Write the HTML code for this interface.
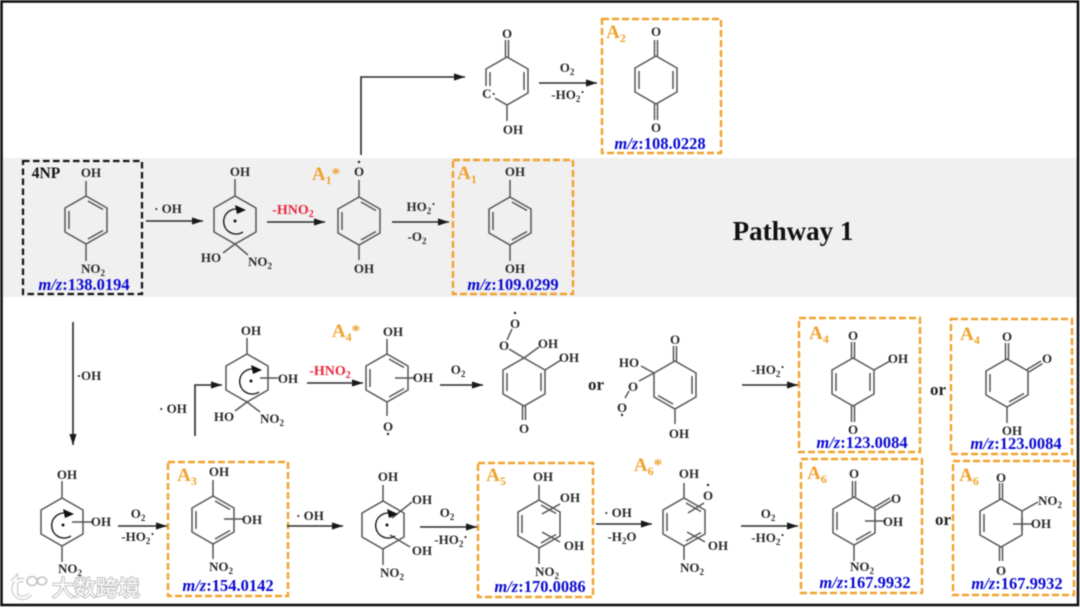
<!DOCTYPE html>
<html>
<head>
<meta charset="utf-8">
<style>
html,body{margin:0;padding:0;background:#fff;width:1080px;height:608px;overflow:hidden}
svg{display:block;filter:blur(0.45px)}
text{font-family:"Liberation Serif","Noto Serif CJK SC",serif;text-anchor:middle}
.t{font-size:13px;font-weight:bold;fill:#2a2a2a}
.r{font-size:14px;font-weight:bold;fill:#e8263c}
.m{font-size:16.5px;font-weight:bold;fill:#0a0ad2}
.m .i{font-style:italic}
.a{font-size:19px;font-weight:bold;fill:#f0a22e}
.b{fill:none;stroke:#f0a22e;stroke-width:2.4;stroke-dasharray:7 3}
.o{font-size:17px;font-weight:bold;fill:#222}
.ring{fill:none;stroke:#555;stroke-width:1.5}
.ar{stroke:#2a2a2a;stroke-width:1.6;fill:none;marker-end:url(#h)}
</style>
</head>
<body>
<svg width="1080" height="608" viewBox="0 0 1080 608" xmlns="http://www.w3.org/2000/svg">
<defs>
<marker id="h" markerUnits="userSpaceOnUse" markerWidth="12" markerHeight="8" refX="11" refY="4" orient="auto"><path d="M0,0.4L11,4L0,7.6z" fill="#1a1a1a"/></marker>
<polygon id="hex" points="0,-24 21,-12 21,12 0,24 -21,12 -21,-12"/>
<path id="L" d="M-17,-9V9"/>
<path id="R" d="M17,-9V9"/>
<path id="UR" d="M2,-19L17,-10.5"/>
<path id="LR" d="M2,19L17,10.5"/>
<path id="LL" d="M-2,19L-17,10.5"/>
<g id="rad">
<circle cx="0" cy="0" r="1.5" fill="#111"/>
<path d="M8,11A12.5,12.5 0 1 1 6,-11" fill="none" stroke="#222" stroke-width="1.5"/>
<path d="M0,-16L11,-11L2,-7z" fill="#111"/>
</g>
</defs>

<rect x="0" y="0" width="1080" height="608" fill="#fff"/>
<rect x="3" y="158" width="1074" height="139" fill="#f0f0f0"/>
<rect x="1.5" y="1.5" width="1076.5" height="603.5" fill="none" stroke="#111" stroke-width="2.6"/>

<!-- boxes -->
<rect x="23" y="161" width="119" height="133" fill="none" stroke="#111" stroke-width="2.2" stroke-dasharray="6.5 3.5"/>
<rect class="b" x="453" y="160" width="120" height="134"/>
<rect class="b" x="602" y="19" width="119" height="134"/>
<rect class="b" x="168" y="462" width="120" height="134"/>
<rect class="b" x="478" y="463" width="115" height="134"/>
<rect class="b" x="799" y="318" width="121" height="134"/>
<rect class="b" x="951" y="319" width="121" height="135"/>
<rect class="b" x="801" y="459" width="121" height="134"/>
<rect class="b" x="953" y="461" width="121" height="134"/>

<!-- rings and bonds -->
<g class="ring">
<!-- 4NP -->
<g transform="translate(86,220)"><use href="#hex"/><use href="#L"/><use href="#UR"/><use href="#LR"/><path d="M0,-24V-39M0,24V41"/></g>
<!-- OH adduct -->
<g transform="translate(235,220)"><use href="#hex"/><path d="M0,-24V-41M0,24L-12,33M0,24L13,35"/></g>
<!-- A1* -->
<g transform="translate(359,221)"><use href="#hex"/><use href="#L"/><use href="#UR"/><use href="#LR"/><path d="M0,-24V-41M0,24V39"/></g>
<!-- A1 -->
<g transform="translate(510,221)"><use href="#hex"/><use href="#L"/><use href="#UR"/><use href="#LR"/><path d="M0,-24V-41M0,24V40"/></g>
<!-- top intermediate -->
<g transform="translate(507,81)"><use href="#hex"/><use href="#L"/><use href="#R"/><path d="M-1.5,-24V-41M1.5,-24V-41M0,24V40"/></g>
<!-- A2 -->
<g transform="translate(656,80)"><use href="#hex"/><use href="#L"/><use href="#R"/><path d="M-1.5,-24V-40M1.5,-24V-40M-1.5,24V40M1.5,24V40"/></g>
<!-- bottom left -->
<g transform="translate(62,522)"><use href="#hex"/><path d="M0,-24V-41M0,24V40M10,0H30"/></g>
<!-- A3 -->
<g transform="translate(213,520)"><use href="#hex"/><use href="#L"/><use href="#UR"/><use href="#LR"/><path d="M0,-24V-40M0,24V39M11,-1H30"/></g>
<!-- mid upper -->
<g transform="translate(247,378)"><use href="#hex"/><path d="M0,-24V-40M0,24L-12,33M0,24L13,34M13,0H31"/></g>
<!-- A4* -->
<g transform="translate(387,378)"><use href="#hex"/><use href="#L"/><use href="#UR"/><use href="#LR"/><path d="M0,-24V-39M0,24V38M8,0H28"/></g>
<!-- peroxy 1 -->
<g transform="translate(524,382)"><use href="#hex"/><use href="#L"/><use href="#R"/><path d="M-1.5,24V38M1.5,24V38M0,-24L-15,-33M0,-24L15,-35M21,-12L37,-22M-17,-42L-12,-53"/></g>
<!-- peroxy 2 -->
<g transform="translate(675,385)"><use href="#hex"/><use href="#R"/><use href="#LL"/><path d="M-1.5,-24V-39M1.5,-24V-39M0,24V39M-21,-12L-34,-19M-21,-12L-36,-4M-46,6L-50,13"/></g>
<!-- A4 -->
<g transform="translate(853,382)"><use href="#hex"/><use href="#L"/><use href="#R"/><path d="M-1.5,-24V-40M1.5,-24V-40M-1.5,24V40M1.5,24V40M21,-12L37,-21"/></g>
<!-- A4b -->
<g transform="translate(1007,383)"><use href="#hex"/><use href="#L"/><use href="#LR"/><path d="M-1.5,-24V-40M1.5,-24V-40M0,24V40M20,-13.5L34,-22M22,-11L35.5,-19.5"/></g>
<!-- bis-OH radical -->
<g transform="translate(383,525)"><use href="#hex"/><path d="M0,-24V-40M0,24V40M9,-7L29,-23M7,10L27,22"/></g>
<!-- A5 -->
<g transform="translate(539,524)"><use href="#hex"/><use href="#L"/><use href="#UR"/><use href="#LR"/><path d="M0,-24V-39M0,24V40M3,-10L21,-20M3,8L21,18"/></g>
<!-- A6* -->
<g transform="translate(684,522)"><use href="#hex"/><use href="#L"/><use href="#UR"/><use href="#LR"/><path d="M0,-24V-39M0,24V38M4,-9L20,-19M3,10L21,20"/></g>
<!-- A6 -->
<g transform="translate(854,521)"><use href="#hex"/><use href="#L"/><use href="#LR"/><path d="M-1.5,-24V-40M1.5,-24V-40M0,24V40M20,-13.5L36,-23M22,-11L37.5,-20.5M11,0H30"/></g>
<!-- A6b -->
<g transform="translate(1001,523)"><use href="#hex"/><use href="#L"/><path d="M-1.5,-24V-40M1.5,-24V-40M-1.5,24V38M1.5,24V38M21,-12L37,-21M12,1H31M21,-6V8"/></g>
</g>
<rect x="480" y="86" width="15" height="14" fill="#fff"/>

<!-- radicals -->
<use href="#rad" x="235" y="221"/>
<use href="#rad" x="63" y="525"/>
<use href="#rad" x="251" y="381"/>
<use href="#rad" x="387" y="525"/>

<!-- arrows -->
<path class="ar" d="M146,221H203"/>
<path class="ar" d="M267,222H325"/>
<path class="ar" d="M392,222H449"/>
<path class="ar" d="M539,83H597"/>
<path class="ar" d="M361,155V77H465"/>
<path class="ar" d="M73,322V445"/>
<path class="ar" d="M195,436V385H222"/>
<path class="ar" d="M307,383H363"/>
<path class="ar" d="M440,385H483"/>
<path class="ar" d="M742,385H798"/>
<path class="ar" d="M118,526H167"/>
<path class="ar" d="M287,526H343"/>
<path class="ar" d="M420,527H477"/>
<path class="ar" d="M596,524H652"/>
<path class="ar" d="M741,526H798"/>

<!-- radical dots on oxygens -->
<g fill="#222">
<circle cx="359" cy="162" r="1.2"/>
<circle cx="388" cy="434" r="1.2"/>
<circle cx="515" cy="313" r="1.2"/>
<circle cx="622" cy="415" r="1.2"/>
<circle cx="708" cy="485" r="1.2"/>
</g>

<!-- structure labels -->
<g class="t">
<text x="91" y="177">OH</text><text x="93" y="273">NO<tspan dy="3" font-size="9">2</tspan></text>
<text x="240" y="176">OH</text><text x="211" y="262">HO</text><text x="260" y="266">NO<tspan dy="3" font-size="9">2</tspan></text>
<text x="359" y="176">O</text><text x="364" y="273">OH</text>
<text x="515" y="176">OH</text><text x="515" y="273">OH</text>
<text x="507" y="38">O</text><text x="513" y="134">OH</text><text x="489" y="98">C·</text>
<text x="656" y="36">O</text><text x="656" y="132">O</text>
<text x="67" y="479">OH</text><text x="101" y="526">OH</text><text x="70" y="573">NO<tspan dy="3" font-size="9">2</tspan></text>
<text x="219" y="476">OH</text><text x="252" y="524">OH</text><text x="221" y="571">NO<tspan dy="3" font-size="9">2</tspan></text>
<text x="251" y="335">OH</text><text x="288" y="383">OH</text><text x="224" y="421">HO</text><text x="272" y="423">NO<tspan dy="3" font-size="9">2</tspan></text>
<text x="393" y="336">OH</text><text x="423" y="382">OH</text><text x="388" y="431">O</text>
<text x="504" y="350">O</text><text x="515" y="328">O</text><text x="548" y="348">OH</text><text x="569" y="362">OH</text><text x="524" y="433">O</text>
<text x="675" y="344">O</text><text x="629" y="367">HO</text><text x="633" y="391">O</text><text x="622" y="412">O</text><text x="679" y="438">OH</text>
<text x="853" y="340">O</text><text x="898" y="363">OH</text><text x="853" y="434">O</text>
<text x="1007" y="341">O</text><text x="1047" y="363">O</text><text x="1012" y="435">OH</text>
<text x="388" y="481">OH</text><text x="422" y="504">OH</text><text x="422" y="555">OH</text><text x="392" y="577">NO<tspan dy="3" font-size="9">2</tspan></text>
<text x="543" y="481">OH</text><text x="570" y="502">OH</text><text x="574" y="550">OH</text><text x="547" y="576">NO<tspan dy="3" font-size="9">2</tspan></text>
<text x="689" y="478">OH</text><text x="708" y="500">O</text><text x="718" y="550">OH</text><text x="692" y="572">NO<tspan dy="3" font-size="9">2</tspan></text>
<text x="854" y="478">O</text><text x="896" y="503">O</text><text x="893" y="526">OH</text><text x="862" y="571">NO<tspan dy="3" font-size="9">2</tspan></text>
<text x="1001" y="482">O</text><text x="1050" y="505">NO<tspan dy="3" font-size="9">2</tspan></text><text x="1041" y="528">OH</text><text x="1001" y="575">O</text>

<!-- reaction labels -->
<text x="168" y="213">· OH</text>
<text x="421" y="211">HO<tspan dy="3" font-size="9">2</tspan><tspan dy="-6">·</tspan></text>
<text x="417" y="241">-O<tspan dy="3" font-size="9">2</tspan></text>
<text x="567" y="72">O<tspan dy="3" font-size="9">2</tspan></text>
<text x="568" y="99">-HO<tspan dy="3" font-size="9">2</tspan><tspan dy="-6">·</tspan></text>
<text x="89" y="380">·OH</text>
<text x="173" y="413">· OH</text>
<text x="458" y="374">O<tspan dy="3" font-size="9">2</tspan></text>
<text x="768" y="374">-HO<tspan dy="3" font-size="9">2</tspan><tspan dy="-6">·</tspan></text>
<text x="138" y="518">O<tspan dy="3" font-size="9">2</tspan></text>
<text x="138" y="541">-HO<tspan dy="3" font-size="9">2</tspan><tspan dy="-6">·</tspan></text>
<text x="310" y="520">· OH</text>
<text x="447" y="517">O<tspan dy="3" font-size="9">2</tspan></text>
<text x="451" y="544">-HO<tspan dy="3" font-size="9">2</tspan><tspan dy="-6">·</tspan></text>
<text x="618" y="517">· OH</text>
<text x="622" y="541">-H<tspan dy="3" font-size="9">2</tspan><tspan dy="-3">O</tspan></text>
<text x="768" y="518">O<tspan dy="3" font-size="9">2</tspan></text>
<text x="768" y="542">-HO<tspan dy="3" font-size="9">2</tspan><tspan dy="-6">·</tspan></text>
</g>

<text class="r" x="293" y="214">-HNO<tspan dy="3" font-size="10">2</tspan></text>
<text class="r" x="330" y="375">-HNO<tspan dy="3" font-size="10">2</tspan></text>

<text class="o" x="596" y="390">or</text>
<text class="o" x="938" y="395">or</text>
<text class="o" x="943" y="525">or</text>

<text x="793" y="240" style="font-size:27px;font-weight:bold;fill:#111">Pathway 1</text>
<text x="46" y="178" style="font-size:15.5px;font-weight:bold;fill:#111">4NP</text>

<!-- species labels -->
<g class="a">
<text x="326" y="180">A<tspan dy="4" font-size="12">1</tspan><tspan dy="-5" font-size="17">*</tspan></text>
<text x="467" y="179">A<tspan dy="4" font-size="12">1</tspan></text>
<text x="616" y="38">A<tspan dy="4" font-size="12">2</tspan></text>
<text x="187" y="481">A<tspan dy="4" font-size="12">3</tspan></text>
<text x="346" y="337">A<tspan dy="4" font-size="12">4</tspan><tspan dy="-5" font-size="17">*</tspan></text>
<text x="496" y="481">A<tspan dy="4" font-size="12">5</tspan></text>
<text x="648" y="471">A<tspan dy="4" font-size="12">6</tspan><tspan dy="-5" font-size="17">*</tspan></text>
<text x="819" y="339">A<tspan dy="4" font-size="12">4</tspan></text>
<text x="970" y="340">A<tspan dy="4" font-size="12">4</tspan></text>
<text x="817" y="479">A<tspan dy="4" font-size="12">6</tspan></text>
<text x="969" y="481">A<tspan dy="4" font-size="12">6</tspan></text>
</g>

<!-- m/z -->
<g class="m">
<text x="84" y="290"><tspan class="i">m/z</tspan>:138.0194</text>
<text x="513" y="290"><tspan class="i">m/z</tspan>:109.0299</text>
<text x="660" y="149"><tspan class="i">m/z</tspan>:108.0228</text>
<text x="228" y="591"><tspan class="i">m/z</tspan>:154.0142</text>
<text x="540" y="592"><tspan class="i">m/z</tspan>:170.0086</text>
<text x="862" y="448"><tspan class="i">m/z</tspan>:123.0084</text>
<text x="1016" y="449"><tspan class="i">m/z</tspan>:123.0084</text>
<text x="865" y="588"><tspan class="i">m/z</tspan>:167.9932</text>
<text x="1017" y="589"><tspan class="i">m/z</tspan>:167.9932</text>
</g>

<!-- watermark -->
<g opacity="0.9">
<path d="M12,582L16,578V596M24,580A9,9 0 1 0 30,594" fill="none" stroke="#c4c4c4" stroke-width="4.5"/>
<path d="M12,582L16,578V596M24,580A9,9 0 1 0 30,594" fill="none" stroke="#fff" stroke-width="2.2"/>
<ellipse cx="32" cy="581" rx="5" ry="4.5" fill="none" stroke="#bbb" stroke-width="1.6"/>
<ellipse cx="42" cy="581" rx="4.5" ry="4" fill="none" stroke="#bbb" stroke-width="1.6"/>
<text x="96" y="596" style="font-family:'Noto Sans CJK SC',sans-serif;font-size:22px;fill:#fff;stroke:#b4b4b4;stroke-width:1.8px;paint-order:stroke">大数跨境</text>
</g>
</svg>
</body>
</html>
